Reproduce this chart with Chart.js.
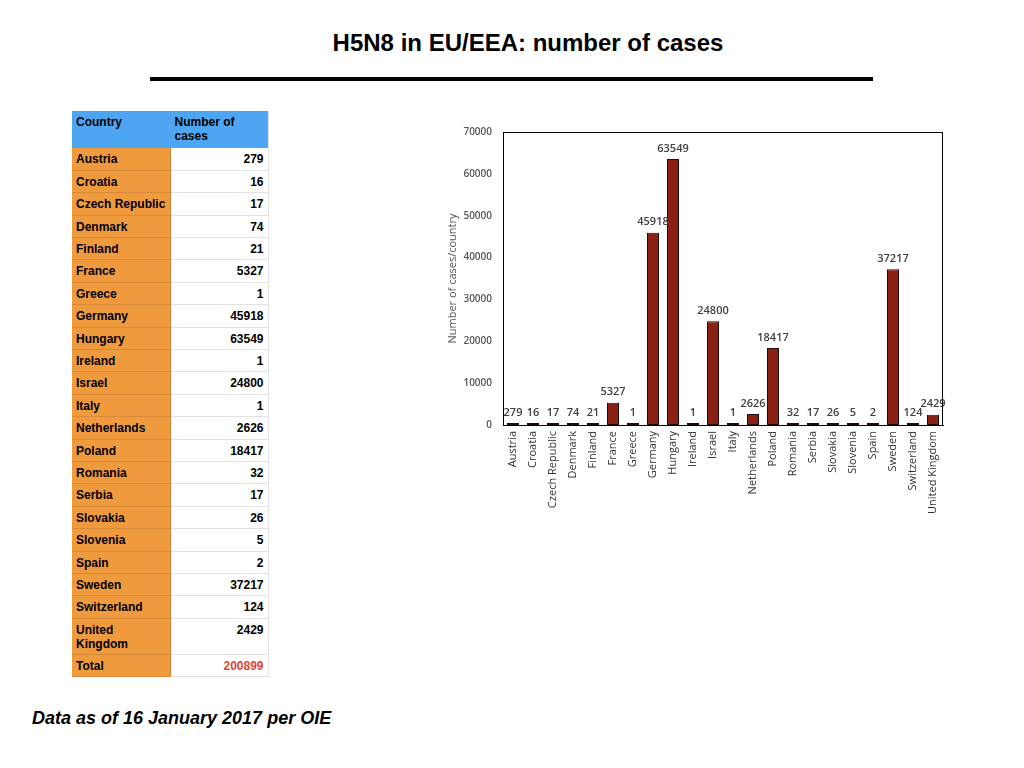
<!DOCTYPE html>
<html>
<head>
<meta charset="utf-8">
<script src="https://cdn.jsdelivr.net/npm/chart.js@4.4.0/dist/chart.umd.min.js"></script>
<style>
  body { margin: 0; background: #fff; width: 1024px; height: 768px; position: relative; overflow: hidden; font-family: "Liberation Sans", Arial, sans-serif; }
  #titulo { position: absolute; left: 0; width: 1056px; top: 29px; text-align: center; font-weight: bold; font-size: 24px; color: #000; }
  #linea { position: absolute; left: 150px; top: 77px; width: 723px; height: 4px; background: #000; }
  #tabla { position: absolute; left: 72px; top: 111px; border-collapse: collapse; font-size: 12px; font-weight: bold; }
  #tabla td { padding: 0 4px; height: 22.4px; border-bottom: 1px solid #e2e2e2; vertical-align: top; line-height: 14px; padding-top: 4px; box-sizing: border-box; }
  #tabla td.pais { width: 98px; background: #f09a3e; border-right: 1px solid #c98033; border-bottom: 1px solid #d88a38; }
  #tabla td.num { width: 98px; text-align: right; background: #fff; border-right: 1px solid #e2e2e2; }
  #tabla tr.cab td { background: #4ea6f2; height: 37px; vertical-align: top; padding-top: 4px; border-bottom: none; }
  #tabla td.total { color: #e0473a; }
  #nota { position: absolute; left: 32px; top: 708px; font-size: 18px; font-weight: bold; font-style: italic; }
  #grafico { position: absolute; left: 440px; top: 120px; }
</style>
</head>
<body>
<div id="titulo">H5N8 in EU/EEA: number of cases</div>
<div id="linea"></div>
<table id="tabla"></table>
<div id="grafico"><canvas id="myChart" width="520" height="400"></canvas></div>
<div id="nota">Data as of 16 January 2017 per OIE</div>

<script>
// datos del grafico y de la tabla
var paises = ["Austria", "Croatia", "Czech Republic", "Denmark", "Finland", "France", "Greece", "Germany", "Hungary",
    "Ireland", "Israel", "Italy", "Netherlands", "Poland", "Romania", "Serbia", "Slovakia", "Slovenia", "Spain",
    "Sweden", "Switzerland", "United Kingdom"];
var casos = [279, 16, 17, 74, 21, 5327, 1, 45918, 63549, 1, 24800, 1, 2626, 18417, 32, 17, 26, 5, 2, 37217, 124, 2429];
var total = 200899;
var ticksY = [0, 10000, 20000, 30000, 40000, 50000, 60000, 70000];

// tabla lateral
function llenaTabla() {
    var html = '<tr class="cab"><td class="pais" style="background:#4ea6f2;border-right:1px solid #4ea6f2">Country</td><td class="num" style="text-align:left;background:#4ea6f2">Number of<br>cases</td></tr>';
    for (var i = 0; i < paises.length; i++) {
        var nombre = paises[i] == "United Kingdom" ? "United<br>Kingdom" : paises[i];
        var alto = paises[i] == "United Kingdom" ? ' style="height:36px"' : '';
        html += '<tr' + alto + '><td class="pais">' + nombre + '</td><td class="num">' + casos[i] + '</td></tr>';
    }
    html += '<tr><td class="pais">Total</td><td class="num total">' + total + '</td></tr>';
    document.getElementById("tabla").innerHTML = html;
}
llenaTabla();

// etiquetas encima de cada barra y marco del area
var etiquetas = {
    id: "etiquetas",
    afterDatasetsDraw: function(chart) {
        var ctx = chart.ctx;
        var meta = chart.getDatasetMeta(0);
        ctx.save();
        ctx.font = "600 11px 'Open Sans'";
        ctx.fillStyle = "#404040";
        ctx.textAlign = "center";
        ctx.textBaseline = "bottom";
        meta.data.forEach(function(bar, i) {
            ctx.fillText(casos[i], bar.x, bar.y - 5);
        });
        var a = chart.chartArea;
        ctx.strokeStyle = "#000";
        ctx.lineWidth = 1;
        ctx.strokeRect(a.left + 0.5, a.top + 0.5, a.right - a.left - 1, a.bottom - a.top);
        ctx.restore();
    }
};

var canvas = document.getElementById("myChart").getContext("2d");
window.bar = new Chart(canvas, {
    type: "bar",
    data: {
        labels: paises,
        datasets: [{
            label: "Number of cases",
            data: casos,
            backgroundColor: "#8b2015",
            borderColor: "#1a0a08",
            borderWidth: 1,
            borderSkipped: false,
            minBarLength: 2,
            barPercentage: 0.6,
            categoryPercentage: 1
        }]
    },
    options: {
        responsive: false,
        animation: false,
        layout: { padding: { top: 12, right: 17, left: 0, bottom: 0 } },
        plugins: {
            legend: { display: false },
            tooltip: { enabled: false }
        },
        scales: {
            x: {
                grid: { display: false, drawTicks: false },
                border: { color: "#000" },
                ticks: {
                    autoSkip: false,
                    maxRotation: 90,
                    minRotation: 90,
                    padding: 6,
                    color: "#333",
                    font: { family: "'Open Sans'", size: 11 }
                },
                afterFit: function(scale) { scale.height = 95; }
            },
            y: {
                min: 0,
                max: 70000,
                afterBuildTicks: function(scale) {
                    scale.ticks = ticksY.map(function(v) { return { value: v }; });
                },
                grid: { display: false, drawTicks: false },
                border: { color: "#000" },
                ticks: {
                    padding: 11,
                    color: "#555",
                    font: { family: "'Open Sans'", size: 10, weight: "600" },
                    callback: function(v) { return String(v); }
                },
                title: {
                    display: true,
                    text: "Number of cases/country",
                    color: "#555",
                    padding: { top: 6, bottom: 0 },
                    font: { family: "'Open Sans'", size: 11 }
                },
                afterFit: function(scale) {
                    scale.width = 63;
                    scale.paddingTop = 0;
                    scale.paddingBottom = 0;
                }
            }
        }
    },
    plugins: [etiquetas]
});
</script>
</body>
</html>
